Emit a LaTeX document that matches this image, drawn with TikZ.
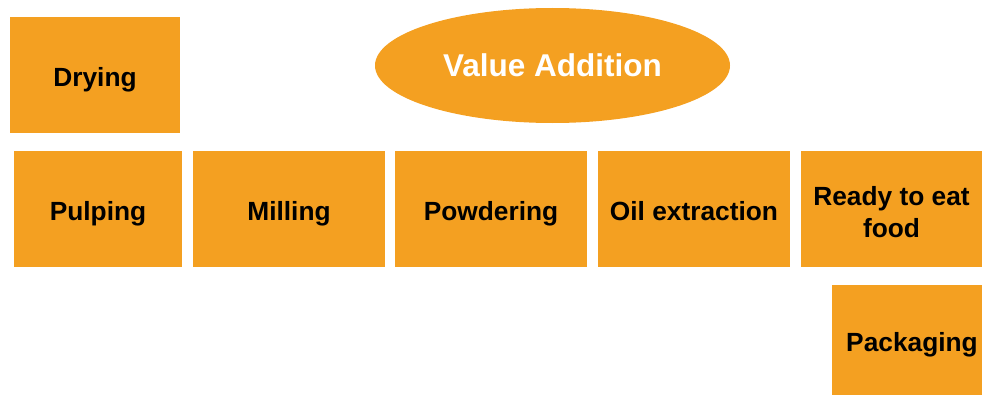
\documentclass[tikz,border=0pt]{standalone}
\usepackage{fontspec}
\setmainfont{Liberation Sans}
\usetikzlibrary{shapes.geometric}
\definecolor{boxorange}{HTML}{F4A021}
\tikzset{
  stepbox/.style={fill=boxorange, draw=none, font=\fontsize{26.3}{32}\selectfont\bfseries, text=black, align=center, inner sep=0pt, text height=27pt, text depth=5pt},
  headell/.style={ellipse, fill=boxorange, draw=none, font=\fontsize{31.5}{36}\selectfont\bfseries, text=white, inner sep=0pt, text height=22.6pt, text depth=0pt}
}
\begin{document}
\begin{tikzpicture}[x=1pt,y=-1pt]
\useasboundingbox (0,0) rectangle (982,396);
\node[stepbox, minimum width=170pt, minimum height=116pt] (drying) at (95,75) {Drying};
\node[headell, minimum width=355pt, minimum height=115pt] (value) at (552.5,65.5) {Value Addition};
\node[stepbox, minimum width=168pt, minimum height=116pt] (pulping) at (98,209) {Pulping};
\node[stepbox, minimum width=192pt, minimum height=116pt] (milling) at (289,209) {Milling};
\node[stepbox, minimum width=192pt, minimum height=116pt] (powdering) at (491,209) {Powdering};
\node[stepbox, minimum width=192pt, minimum height=116pt] (oil) at (694,209) {Oil extraction};
\node[stepbox, minimum width=181pt, minimum height=116pt, text height=61pt, text depth=5pt] (ready) at (891.5,209) {Ready to eat\\food};
\node[stepbox, minimum width=150pt, minimum height=110pt] (packaging) at (907,340) {\hspace*{10pt}Packaging};
\end{tikzpicture}
\end{document}
